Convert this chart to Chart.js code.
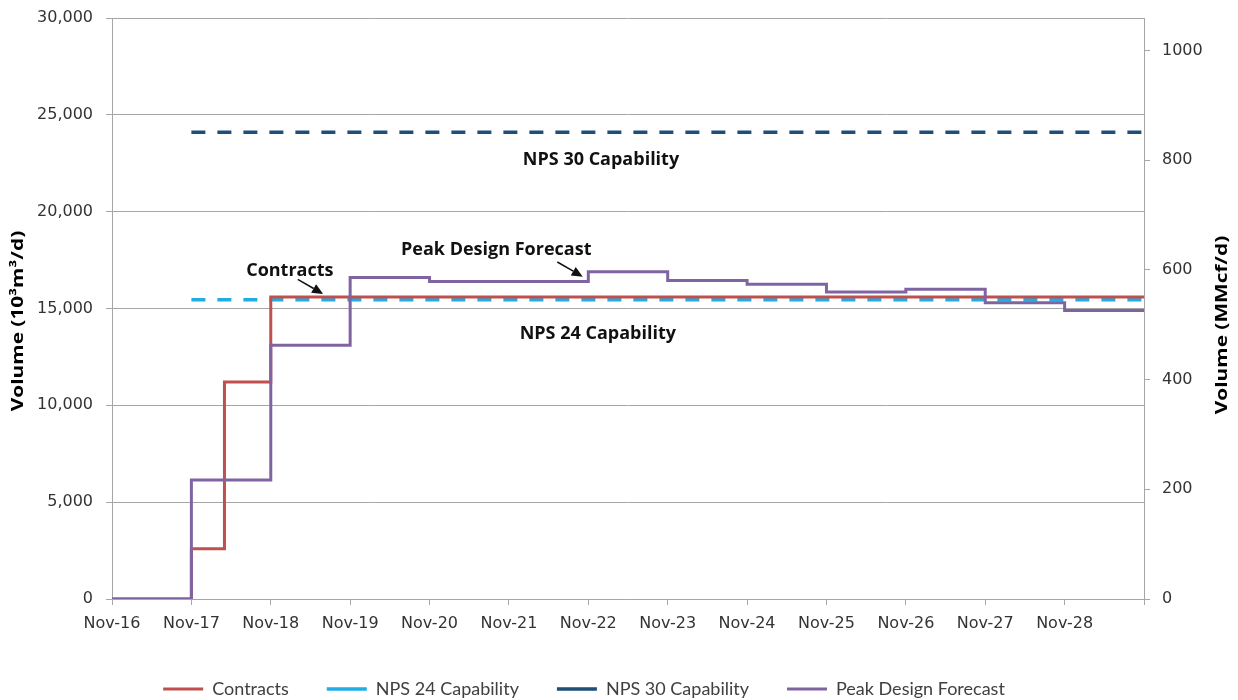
<!DOCTYPE html>
<html>
<head>
<meta charset="utf-8">
<script src="https://cdn.jsdelivr.net/npm/chart.js@4.4.1/dist/chart.umd.min.js"></script>
<style>
  html, body { margin: 0; padding: 0; background: #fff; }
  #wrap { width: 1238px; height: 700px; }
</style>
</head>
<body>
<div id="wrap"><canvas id="capChart" width="1238" height="700"></canvas></div>
<script>
// tick labels on the time axis (one per year, Nov-16 .. Nov-28)
const yearLabels = ['Nov-16', 'Nov-17', 'Nov-18', 'Nov-19', 'Nov-20', 'Nov-21', 'Nov-22',
                    'Nov-23', 'Nov-24', 'Nov-25', 'Nov-26', 'Nov-27', 'Nov-28'];

// months after Nov-16 where each step starts (last entry = end of axis, Nov-29)
const contractMonths = [0, 12, 17, 24, 156];
const contractValues = [0, 2600, 11200, 15600, 15600];

const peakMonths = [0, 12, 24, 36, 48, 72, 84, 96, 108, 120, 132, 144, 156];
const peakValues = [0, 6150, 13100, 16600, 16400, 16900, 16450, 16250, 15850, 16000, 15300, 14900, 14900];

const capMonths = [12, 156];
const nps24Values = [15450, 15450];
const nps30Values = [24100, 24100];

const leftTicks = [0, 5000, 10000, 15000, 20000, 25000, 30000];
const rightTicks = [0, 200, 400, 600, 800, 1000];

const M3_PER_MMCF = 28.317; // 10^3 m3 in one MMcf

function toPoints(months, values) {
  return months.map((m, i) => ({ x: m / 12, y: values[i] }));
}

// annotation texts, placed in data units (years after Nov-16, 10^3 m3/d)
const notes = [
  { text: 'NPS 30 Capability', x: 6.16, y: 22700 },
  { text: 'NPS 24 Capability', x: 6.12, y: 13700 },
  { text: 'Peak Design Forecast', x: 4.84, y: 18050 },
  { text: 'Contracts', x: 2.24, y: 16950 }
];
const arrows = [
  { x0: 2.34, y0: 16500, x1: 2.66, y1: 15750 },
  { x0: 5.61, y0: 17400, x1: 5.93, y1: 16640 }
];

const notesPlugin = {
  id: 'notes',
  afterDatasetsDraw(chart) {
    const { ctx, scales } = chart;
    const x = scales.x, y = scales.y;
    ctx.save();
    ctx.fillStyle = '#111';
    ctx.strokeStyle = '#111';
    ctx.font = 'bold 18px "Open Sans"';
    ctx.textAlign = 'center';
    ctx.textBaseline = 'middle';
    notes.forEach(n => {
      ctx.fillText(n.text, x.getPixelForValue(n.x), y.getPixelForValue(n.y));
    });
    arrows.forEach(a => {
      const px0 = x.getPixelForValue(a.x0), py0 = y.getPixelForValue(a.y0);
      const px1 = x.getPixelForValue(a.x1), py1 = y.getPixelForValue(a.y1);
      const ang = Math.atan2(py1 - py0, px1 - px0);
      const head = 11;
      ctx.lineWidth = 1.5;
      ctx.beginPath();
      ctx.moveTo(px0, py0);
      ctx.lineTo(px1 - head * Math.cos(ang), py1 - head * Math.sin(ang));
      ctx.stroke();
      ctx.beginPath();
      ctx.moveTo(px1, py1);
      ctx.lineTo(px1 - head * Math.cos(ang) + 5 * Math.sin(ang), py1 - head * Math.sin(ang) - 5 * Math.cos(ang));
      ctx.lineTo(px1 - head * Math.cos(ang) - 5 * Math.sin(ang), py1 - head * Math.sin(ang) + 5 * Math.cos(ang));
      ctx.closePath();
      ctx.fill();
    });
    ctx.restore();

    // axis titles, both reading bottom to top
    const titles = [
      { text: 'Volume (10\u00b3m\u00b3/d)', cx: 18, cy: 321 },
      { text: 'Volume (MMcf/d)', cx: chart.width - 16, cy: 325 }
    ];
    titles.forEach(t => {
      ctx.save();
      ctx.font = 'bold 16px "Open Sans"';
      ctx.fillStyle = '#000';
      ctx.textAlign = 'center';
      ctx.textBaseline = 'middle';
      ctx.translate(t.cx, t.cy);
      ctx.rotate(-Math.PI / 2);
      ctx.scale(1.3, 1);
      ctx.fillText(t.text, 0, 0);
      ctx.restore();
    });
  }
};

const tickFont = { family: '"DejaVu Sans"', size: 16 };
const axisGray = '#a6a6a6';
const capDash = [14, 12];

new Chart(document.getElementById('capChart'), {
  type: 'line',
  data: {
    datasets: [{
      label: 'Contracts',
      data: toPoints(contractMonths, contractValues),
      borderColor: '#C0504D',
      backgroundColor: 'rgba(0,0,0,0)',
      borderWidth: 3,
      stepped: true,
      order: 1
    }, {
      label: 'NPS 24 Capability',
      data: toPoints(capMonths, nps24Values),
      borderColor: '#1FADE4',
      backgroundColor: 'rgba(0,0,0,0)',
      borderWidth: 3.5,
      borderDash: capDash,
      order: 2
    }, {
      label: 'NPS 30 Capability',
      data: toPoints(capMonths, nps30Values),
      borderColor: '#1F4E79',
      backgroundColor: 'rgba(0,0,0,0)',
      borderWidth: 3.5,
      borderDash: capDash,
      order: 3
    }, {
      label: 'Peak Design Forecast',
      data: toPoints(peakMonths, peakValues),
      borderColor: '#8064A2',
      backgroundColor: 'rgba(0,0,0,0)',
      borderWidth: 3,
      stepped: true,
      order: 0
    }]
  },
  options: {
    responsive: false,
    animation: false,
    // negative left padding pulls the centred legend left, as in the original
    layout: { padding: { top: 18, bottom: -8, left: -70, right: 0 } },
    elements: { point: { radius: 0 }, line: { fill: false, tension: 0 } },
    plugins: {
      tooltip: { enabled: false },
      legend: {
        position: 'bottom',
        labels: {
          boxWidth: 40,
          boxHeight: 0,
          padding: 38,
          color: '#404040',
          font: { family: 'Lato', size: 18 },
          sort: (a, b) => a.datasetIndex - b.datasetIndex
        }
      }
    },
    scales: {
      x: {
        type: 'linear',
        min: 0,
        max: 13,
        afterFit: s => { s.height = 43; },
        afterBuildTicks: s => { s.ticks = yearLabels.map((_, i) => ({ value: i })).concat([{ value: 13 }]); },
        ticks: {
          autoSkip: false,
          maxRotation: 0,
          padding: 9,
          color: '#333',
          font: tickFont,
          callback: v => yearLabels[v] || ''
        },
        grid: { drawOnChartArea: false, tickLength: 6, color: axisGray },
        border: { color: axisGray }
      },
      y: {
        position: 'left',
        min: 0,
        max: 30000,
        afterFit: s => { s.width = 182; s.paddingTop = 8; },
        afterBuildTicks: s => { s.ticks = leftTicks.map(v => ({ value: v })); },
        ticks: { padding: 13, color: '#333', font: tickFont },
        grid: { color: axisGray, tickLength: 6 },
        border: { color: axisGray }
      },
      y2: {
        position: 'right',
        min: 0,
        max: 30000 / M3_PER_MMCF,
        afterFit: s => { s.width = 94; s.paddingTop = 8; },
        afterBuildTicks: s => { s.ticks = rightTicks.map(v => ({ value: v })); },
        ticks: { padding: 12, color: '#333', font: tickFont, callback: v => String(v) },
        grid: { drawOnChartArea: false, color: axisGray, tickLength: 6 },
        border: { color: axisGray }
      }
    }
  },
  plugins: [notesPlugin]
});
</script>
</body>
</html>
